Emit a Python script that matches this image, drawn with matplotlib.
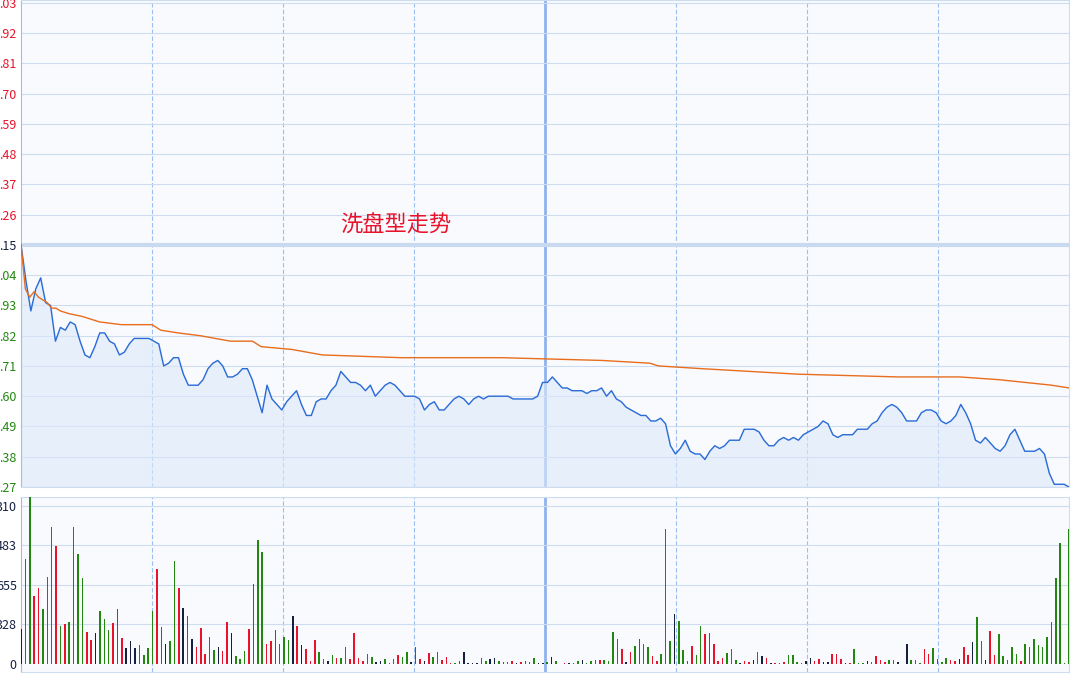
import numpy as np
import matplotlib
import matplotlib.pyplot as plt

matplotlib.use('Agg')
plt.rcParams['font.family'] = ['Noto Sans CJK SC', 'DejaVu Sans']

# 分时价格 (均匀分布在 0..240 分钟)
price = [5.15, 5.02, 4.91, 4.99, 5.03, 4.94, 4.93, 4.80, 4.85, 4.84, 4.87, 4.86, 4.80, 4.75, 4.74,
         4.78, 4.83, 4.83, 4.80, 4.79, 4.75, 4.76, 4.79, 4.81, 4.81, 4.81, 4.81, 4.80, 4.79, 4.71,
         4.72, 4.74, 4.74, 4.68, 4.64, 4.64, 4.64, 4.66, 4.70, 4.72, 4.73, 4.71, 4.67, 4.67, 4.68,
         4.70, 4.70, 4.66, 4.60, 4.54, 4.64, 4.59, 4.57, 4.55, 4.58, 4.60, 4.62, 4.57, 4.53, 4.53,
         4.58, 4.59, 4.59, 4.62, 4.64, 4.69, 4.67, 4.65, 4.65, 4.64, 4.62, 4.64, 4.60, 4.62, 4.64,
         4.65, 4.64, 4.62, 4.60, 4.60, 4.60, 4.59, 4.55, 4.57, 4.58, 4.55, 4.55, 4.57, 4.59, 4.60,
         4.59, 4.57, 4.59, 4.60, 4.59, 4.60, 4.60, 4.60, 4.60, 4.60, 4.59, 4.59, 4.59, 4.59, 4.59,
         4.60, 4.65, 4.65, 4.67, 4.65, 4.63, 4.63, 4.62, 4.62, 4.62, 4.61, 4.62, 4.62, 4.63, 4.60,
         4.62, 4.59, 4.58, 4.56, 4.55, 4.54, 4.53, 4.53, 4.51, 4.51, 4.52, 4.50, 4.42, 4.39, 4.41,
         4.44, 4.40, 4.39, 4.39, 4.37, 4.40, 4.42, 4.41, 4.42, 4.44, 4.44, 4.44, 4.48, 4.48, 4.48,
         4.47, 4.44, 4.42, 4.42, 4.44, 4.45, 4.44, 4.45, 4.44, 4.46, 4.47, 4.48, 4.49, 4.51, 4.50,
         4.46, 4.45, 4.46, 4.46, 4.46, 4.48, 4.48, 4.48, 4.50, 4.51, 4.54, 4.56, 4.57, 4.56, 4.54,
         4.51, 4.51, 4.51, 4.54, 4.55, 4.55, 4.54, 4.51, 4.50, 4.51, 4.53, 4.57, 4.54, 4.50, 4.44,
         4.43, 4.45, 4.43, 4.41, 4.40, 4.42, 4.46, 4.48, 4.44, 4.40, 4.40, 4.40, 4.41, 4.39, 4.32,
         4.28, 4.28, 4.28, 4.27]

# 均价线
avg_min = [0, 1, 2, 3, 4, 6, 7, 8, 9, 11, 14, 16, 18, 23, 30, 32, 36, 41, 48, 53, 55, 62, 69, 87,
           110, 133, 144, 146, 156, 167, 178, 201, 215, 224, 236, 240]
avg_price = [5.15, 4.99, 4.96, 4.98, 4.96, 4.94, 4.92, 4.92, 4.91, 4.90, 4.89, 4.88, 4.87, 4.86,
             4.86, 4.84, 4.83, 4.82, 4.80, 4.80, 4.78, 4.77, 4.75, 4.74, 4.74, 4.73, 4.72, 4.71,
             4.70, 4.69, 4.68, 4.67, 4.67, 4.66, 4.64, 4.63]

# 成交量 与 颜色 (r 涨, g 跌, k 平)
vol = [290, 870, 1400, 564, 630, 456, 721, 1136, 978, 315, 332, 348, 1136, 912, 713, 265, 199, 257,
       439, 373, 282, 340, 456, 216, 133, 191, 133, 157, 75, 133, 439, 788, 307, 166, 191, 854, 630,
       464, 398, 207, 141, 298, 83, 224, 116, 141, 108, 348, 257, 66, 41, 108, 290, 663, 1028, 928,
       166, 191, 282, 166, 224, 199, 398, 315, 158, 124, 25, 199, 100, 41, 25, 75, 50, 50, 141, 41,
       257, 50, 25, 83, 58, 17, 25, 41, 8, 41, 75, 58, 100, 17, 141, 41, 25, 91, 58, 100, 33, 58,
       8, 8, 25, 100, 8, 8, 8, 50, 25, 41, 50, 25, 17, 17, 25, 8, 17, 25, 17, 50, 8,
       8, 17, 58, 25, 4, 8, 8, 8, 25, 33, 8, 25, 33, 33, 33, 25, 265, 207, 124, 17, 100, 149, 207,
       166, 141, 66, 25, 83, 1119, 191, 414, 356, 116, 25, 149, 75, 315, 249, 257, 166, 25, 50, 91,
       124, 33, 8, 25, 17, 33, 100, 66, 50, 8, 8, 8, 17, 75, 75, 17, 8, 25, 50, 25, 41, 17, 17, 83,
       83, 41, 8, 8, 124, 8, 8, 25, 17, 66, 33, 17, 33, 33, 17, 4, 166, 33, 33, 8, 124, 83, 133, 41,
       17, 50, 33, 25, 41, 141, 75, 183, 390, 191, 33, 274, 75, 249, 66, 33, 141, 83, 25, 166, 141,
       207, 158, 141, 224, 348, 713, 1003, 8, 1119]
vol_dir = ('kggrrgggrgrggggrrkgggrrrkkkggggrrkggrkrkrrrggkrrkgggrrggrrrrggkrkrrrggkgrggrrrrggkkgggrggk'
           'rrkrggrrrgrkkkkggkkgrrr'
           'krrggkkgkgkrkrgkggrrggggrkrgrggrrgggkggrrggrrrrrgggkrrkgkrkrrrgggrkkrrkkrrrkrgggkgrrrggkkkgggrrgrggrrkrrkggkrrgggggrg')

# 左侧刻度 (原图左边被截断, 只露出小数部分)
price_ticks = [6.03, 5.92, 5.81, 5.70, 5.59, 5.48, 5.37, 5.26, 5.15,
               5.04, 4.93, 4.82, 4.71, 4.60, 4.49, 4.38, 4.27]
price_labels = ['.03', '.92', '.81', '.70', '.59', '.48', '.37', '.26', '.15',
                '.04', '.93', '.82', '.71', '.60', '.49', '.38', '.27']
vol_ticks = [0, 328, 655, 983, 1310]
vol_labels = ['0', '328', '655', '483', '310']
pre_close = 5.15

RED = '#e8132b'
GREEN = '#22870f'
DARK = '#15203f'
GRID = '#cddcef'
BG = '#f8fafe'

fig = plt.figure(figsize=(10.71, 6.74), dpi=100)
fig.patch.set_facecolor('white')
ax = fig.add_axes([21 / 1071, 187 / 674, 1048 / 1071, 487 / 674])
axv = fig.add_axes([21 / 1071, 2 / 674, 1048 / 1071, 175 / 674])

x = np.linspace(0, 240, len(price))
for a in (ax, axv):
    a.set_facecolor(BG)
    a.set_xlim(0, 240)
    for s in a.spines.values():
        s.set_color(GRID)
    a.spines['left'].set_color('#9dbdea')
    a.tick_params(length=0, pad=3, labelsize=9)
    a.set_xticks([])
    for i in range(1, 8):
        if i == 4:
            a.axvline(i * 30, color='#8fb3ee', lw=2, zorder=1)
        else:
            a.axvline(i * 30, color='#9cbff2', lw=0.8, ls=(0, (4, 2)), zorder=1)

ax.set_ylim(4.27, 6.04)
for t in price_ticks:
    if t == pre_close:
        ax.axhline(t, color='#c9daf0', lw=3, zorder=1)
    else:
        ax.axhline(t, color=GRID, lw=0.8, zorder=1)
ax.set_yticks(price_ticks)
ax.set_yticklabels(price_labels)
for t, lab in zip(price_ticks, ax.get_yticklabels()):
    lab.set_color(RED if t > pre_close else (DARK if t == pre_close else GREEN))

ax.fill_between(x, price, 4.27, color='#dce8fa', alpha=0.6, zorder=2)
ax.plot(x, price, color='#2a6bd6', lw=1, zorder=3)
ax.plot(avg_min, avg_price, color='#e86d1c', lw=1, zorder=3)
ax.text(0.358, 0.537, '洗盘型走势', transform=ax.transAxes, color=RED, fontsize=16,
        ha='center', va='center')

axv.set_ylim(-66, 1385)
for t in vol_ticks[1:]:
    axv.axhline(t, color=GRID, lw=0.8, zorder=1)
axv.set_yticks(vol_ticks)
axv.set_yticklabels(vol_labels, color=DARK)
xv = np.linspace(0, 240, len(vol))
cmap = {'r': RED, 'g': GREEN, 'k': DARK}
cols = [cmap[vol_dir[i]] if i < len(vol_dir) else GREEN for i in range(len(vol))]
axv.bar(xv, vol, width=0.35, bottom=0, color=cols, zorder=3)

fig.savefig('out.png', dpi=100)
